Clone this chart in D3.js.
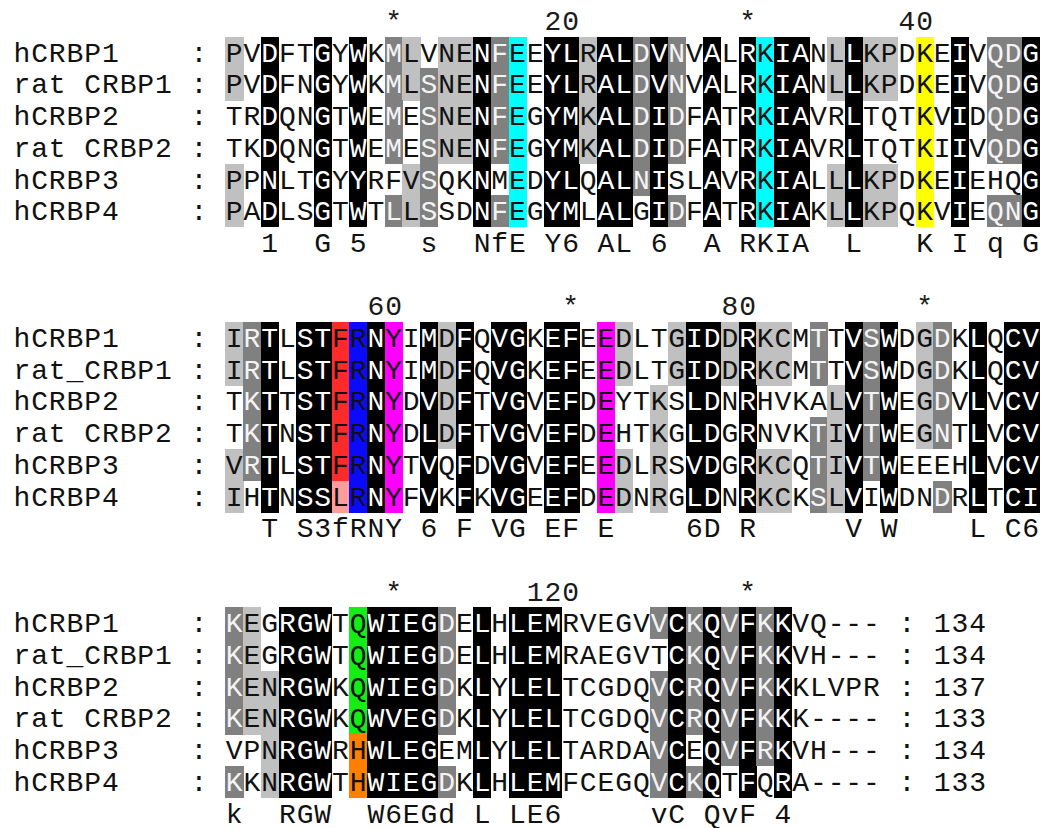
<!DOCTYPE html>
<html>
<head lang="en">
    <meta charset="UTF-8">
    <title></title>
    <script src="https://cdn.jsdelivr.net/npm/d3@7/dist/d3.min.js"></script>
    <style>
        body{ margin:0; background:#fff; }
        text{ font-family:"Liberation Mono", "DejaVu Sans Mono", monospace; font-size:28px; }
        rect{ shape-rendering:crispEdges; }
    </style>
</head>
<body>
    <div id="tu1"></div>
</body>
</html>
<script>
    // names per block (block 1 uses a space in rat CRBP1, the others an underscore)
    var names_b1=['hCRBP1','rat CRBP1','hCRBP2','rat CRBP2','hCRBP3','hCRBP4'];
    var names_b2=['hCRBP1','rat_CRBP1','hCRBP2','rat CRBP2','hCRBP3','hCRBP4'];
    var names_b3=['hCRBP1','rat_CRBP1','hCRBP2','rat CRBP2','hCRBP3','hCRBP4'];

    var seq_b1=[
        'PVDFTGYWKMLVNENFEEYLRALDVNVALRKIANLLKPDKEIVQDG',
        'PVDFNGYWKMLSNENFEEYLRALDVNVALRKIANLLKPDKEIVQDG',
        'TRDQNGTWEMESNENFEGYMKALDIDFATRKIAVRLTQTKVIDQDG',
        'TKDQNGTWEMESNENFEGYMKALDIDFATRKIAVRLTQTKIIVQDG',
        'PPNLTGYYRFVSQKNMEDYLQALNISLAVRKIALLLKPDKEIEHQG',
        'PADLSGTWTLLSSDNFEGYMLALGIDFATRKIAKLLKPQKVIEQNG'
    ];
    var seq_b2=[
        'IRTLSTFRNYIMDFQVGKEFEEDLTGIDDRKCMTTVSWDGDKLQCV',
        'IRTLSTFRNYIMDFQVGKEFEEDLTGIDDRKCMTTVSWDGDKLQCV',
        'TKTTSTFRNYDVDFTVGVEFDEYTKSLDNRHVKALVTWEGDVLVCV',
        'TKTNSTFRNYDLDFTVGVEFDEHTKGLDGRNVKTIVTWEGNTLVCV',
        'VRTLSTFRNYTVQFDVGVEFEEDLRSVDGRKCQTIVTWEEEHLVCV',
        'IHTNSSLRNYFVKFKVGEEFDEDNRGLDNRKCKSLVIWDNDRLTCI'
    ];
    var seq_b3=[
        'KEGRGWTQWIEGDELHLEMRVEGVVCKQVFKKVQ---',
        'KEGRGWTQWIEGDELHLEMRAEGVTCKQVFKKVH---',
        'KENRGWKQWIEGDKLYLELTCGDQVCRQVFKKKLVPR',
        'KENRGWKQWVEGDKLYLELTCGDQVCRQVFKKK----',
        'VPNRGWRHWLEGEMLYLELTARDAVCEQVFRKVH---',
        'KKNRGWTHWIEGDKLHLEMFCEGQVCKQTFQRA----'
    ];

    // shading: 0 none, 1 light gray, 2 dark gray, 3 black, letters = highlight colours
    var shade_b1=[
        '1030030302'+'101132c033'+'1332320303'+'c33013110y'+'030223',
        '1030030302'+'121132c033'+'1332320303'+'c33013110y'+'030223',
        '0030030302'+'021132c033'+'1332320303'+'c33003000y'+'030223',
        '0030030302'+'021132c033'+'1332320303'+'c33003000y'+'030223',
        '1030030300'+'120030c033'+'0332300303'+'c33013110y'+'030003',
        '1030030302'+'120032c033'+'0330320303'+'c33013110y'+'030223'
    ];
    var shade_b2=[
        '123033rb3m'+'0313033033'+'0m10013313'+'1102032301'+'203033',
        '123033rb3m'+'0313033033'+'0m10013313'+'1102032301'+'203033',
        '023033rb3m'+'0313033033'+'0m00103303'+'0000132301'+'203033',
        '023033rb3m'+'0313033033'+'0m00103303'+'0002132301'+'203033',
        '123033rb3m'+'0303033033'+'0m10103303'+'1102132300'+'003033',
        '103033pb3m'+'0303033033'+'0m10103303'+'1102130300'+'203033'
    ];
    var shade_b3=[
        '2103330g33'+'3320303330'+'0000232323'+'2300000',
        '2103330g33'+'3320303330'+'0000032323'+'2300000',
        '2113330g33'+'3320303330'+'0000232323'+'2300000',
        '2113330g33'+'3320303330'+'0000232323'+'2300000',
        '0013330o33'+'3300303330'+'0000230323'+'2300000',
        '2013330o33'+'3320303330'+'0000232303'+'0300000'
    ];

    var cons_b1='  1  G 5  '+' s  NfE Y6'+' AL 6  A R'+'KIA  L   K'+' I q G';
    var cons_b2='  T S3fRNY'+' 6 F VG EF'+' E    6D R'+'     V W  '+'  L C6';
    var cons_b3='k  RGW  W6'+'EGd L LE6 '+'    vC QvF'+' 4     ';

    var blockStart=[1,51,101];
    var endNums_b3=[134,134,137,133,134,133];

    var shadeFill={'1':'#c0c0c0','2':'#808080','3':'#000000',
        c:'#00ffff',y:'#ffff00',r:'#ff2a2a',b:'#0a0aff',m:'#ff00ff',
        p:'#ff9d9d',g:'#14ee14',o:'#ff8000'};
    var shadeText={'2':'#f4f4f4','3':'#ffffff'};

    var blocks=[
        {names:names_b1,seq:seq_b1,shade:shade_b1,cons:cons_b1,start:blockStart[0],ends:null},
        {names:names_b2,seq:seq_b2,shade:shade_b2,cons:cons_b2,start:blockStart[1],ends:null},
        {names:names_b3,seq:seq_b3,shade:shade_b3,cons:cons_b3,start:blockStart[2],ends:endNums_b3}
    ];

    function drawAlign(divname){
        var W=1044,H=828;
        var cw=17.7,lh=31.7;
        // grid column -> pixel, text line -> pixel
        var x=d3.scaleLinear().domain([0,60]).range([13,13+60*cw]);
        var y=d3.scaleLinear().domain([0,27]).range([5,5+27*lh]);

        var cells=[],chars=[];
        function put(g,line,ch,fill){
            if(ch!==' ') chars.push({g:g,line:line,ch:ch,fill:fill||'#111'});
        }
        blocks.forEach(function(b,bi){
            var top=bi*9;
            var n=b.seq[0].length;
            // ruler: * every 10, number every 20 (right aligned)
            for(var i=0;i<n;i++){
                var col=b.start+i;
                if(col%10==0){
                    var lab=col%20==0?String(col):'*';
                    for(var k=0;k<lab.length;k++) put(12+i-lab.length+1+k,top,lab[k],'#1a1a1a');
                }
            }
            b.seq.forEach(function(s,r){
                var line=top+1+r;
                var nm=b.names[r];
                for(var k=0;k<nm.length;k++) put(k,line,nm[k]);
                put(10,line,':');
                for(var i=0;i<s.length;i++){
                    var code=b.shade[r][i];
                    if(code!=='0') cells.push({g:12+i,line:line,fill:shadeFill[code]});
                    put(12+i,line,s[i],shadeText[code]);
                }
                if(b.ends){
                    put(12+n+1,line,':');
                    var t=String(b.ends[r]);
                    for(var k=0;k<t.length;k++) put(12+n+3+k,line,t[k]);
                }
            });
            for(var i=0;i<b.cons.length;i++) put(12+i,top+7,b.cons[i]);
        });

        var _svg=d3.select('#'+divname)
                .append('svg')
                .attr('width',W)
                .attr('height',H);
        _svg.append('rect').attr('width',W).attr('height',H).attr('fill','#fff');

        _svg.selectAll('rect.cell')
                .data(cells)
                .enter()
                .append('rect')
                .attr('class','cell')
                .attr('x',function(d){ return x(d.g); })
                .attr('y',function(d){ return y(d.line); })
                .attr('width',cw+0.4)
                .attr('height',lh+0.4)
                .attr('fill',function(d){ return d.fill; });

        _svg.selectAll('text.ch')
                .data(chars)
                .enter()
                .append('text')
                .attr('class','ch')
                .attr('x',function(d){ return x(d.g+0.5); })
                .attr('y',function(d){ return y(d.line)+25; })
                .attr('text-anchor','middle')
                .attr('fill',function(d){ return d.fill; })
                .text(function(d){ return d.ch; });
    }
    drawAlign('tu1');
</script>
